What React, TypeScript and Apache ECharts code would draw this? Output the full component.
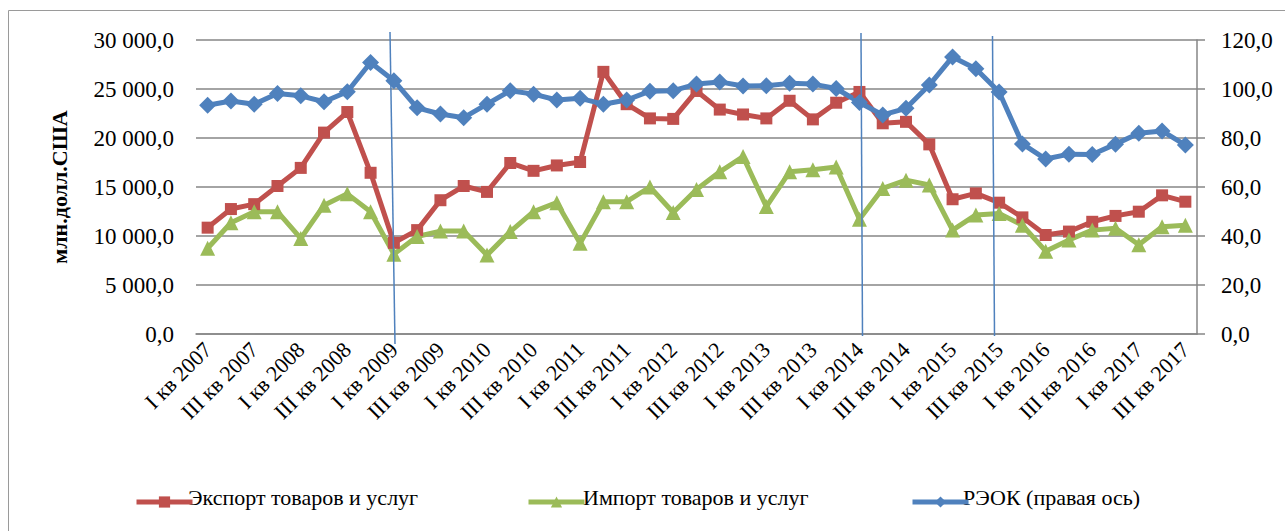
import React, { useEffect, useRef } from "react";
import * as echarts from "echarts";

const quarters = ["I", "II", "III", "IV"];
const years = [2007, 2008, 2009, 2010, 2011, 2012, 2013, 2014, 2015, 2016, 2017];
const categories: string[] = [];
years.forEach((y) => quarters.forEach((q) => categories.push(`${q} кв ${y}`)));
categories.length = 43; // I кв 2007 … III кв 2017

const exportValues = [
  10850, 12750, 13250, 15100, 16950, 20550, 22650, 16450, 9300, 10600,
  13650, 15100, 14500, 17450, 16650, 17200, 17550, 26750, 23450, 22000,
  21950, 24800, 22900, 22400, 22000, 23800, 21900, 23600, 24700, 21500,
  21650, 19350, 13750, 14350, 13400, 11900, 10100, 10450, 11450, 12050,
  12480, 14150, 13500,
];
const importValues = [
  8750, 11350, 12480, 12480, 9750, 13150, 14300, 12480, 8150, 9950,
  10500, 10500, 8050, 10450, 12480, 13400, 9250, 13500, 13500, 15000,
  12400, 14750, 16550, 18100, 13000, 16550, 16750, 17050, 11700, 14850,
  15700, 15200, 10600, 12150, 12300, 11100, 8450, 9600, 10600, 10800,
  9100, 10950, 11100,
];
const reokValues = [
  93.4, 95.1, 93.8, 98.2, 97.2, 94.8, 98.9, 110.8, 103.4, 92.3,
  89.8, 88.3, 93.8, 99.3, 97.9, 95.5, 96.2, 93.8, 95.5, 99.1,
  99.3, 102.0, 102.9, 101.2, 101.3, 102.3, 102.0, 100.2, 94.5, 89.4,
  92.1, 101.6, 113.1, 108.3, 98.8, 77.6, 71.4, 73.4, 73.3, 77.5,
  81.9, 82.9, 77.1,
];

const seriesNames = [
  "Экспорт товаров и услуг",
  "Импорт товаров и услуг",
  "РЭОК (правая ось)",
];
const yAxisName = "млн.долл.США";

const RED = "#C0504D";
const GREEN = "#9BBB59";
const BLUE = "#4F81BD";
const FONT = "Liberation Serif";

function fmtLeft(v: number) {
  const s = Math.round(v)
    .toString()
    .replace(/\B(?=(\d{3})+(?!\d))/g, " ");
  return s + ",0";
}
function fmtRight(v: number) {
  return Math.round(v).toString() + ",0";
}

// legend layout (icon left edge, text left edge)
const legendIconLeft = [129, 521, 905];
const legendTextLeft = [188, 583, 963];

export default function App() {
  const ref = useRef<HTMLDivElement>(null);
  useEffect(() => {
    if (!ref.current) return;
    const chart = echarts.init(ref.current, null, { renderer: "svg" });
    const legends = seriesNames.map((n, i) => ({
      data: [n],
      left: legendIconLeft[i],
      top: 490,
      itemWidth: 56,
      itemHeight: 14,
      itemGap: 0,
      lineStyle: { width: 5 },
      formatter: () => "",
    }));
    const legendTexts = seriesNames.map((n, i) => ({
      type: "text",
      x: legendTextLeft[i],
      y: 497,
      silent: true,
      style: {
        text: n,
        fontFamily: FONT,
        fontSize: 22,
        fill: "#000",
        verticalAlign: "middle",
        align: "left",
      },
    }));
    chart.setOption({
      animation: false,
      backgroundColor: "#fff",
      textStyle: { fontFamily: FONT, color: "#000" },
      grid: { left: 196, right: 88, top: 40, bottom: 197 },
      legend: legends,
      xAxis: {
        type: "category",
        data: categories,
        boundaryGap: true,
        axisLine: { show: true, lineStyle: { color: "#868686", width: 1.5 } },
        axisTick: { show: false },
        axisLabel: {
          interval: 1,
          rotate: 45,
          margin: 12,
          fontFamily: FONT,
          fontSize: 22,
          color: "#000",
        },
        splitLine: { show: false },
      },
      yAxis: [
        {
          type: "value",
          min: 0,
          max: 30000,
          interval: 5000,
          name: yAxisName,
          nameLocation: "middle",
          nameRotate: 90,
          nameGap: 126,
          nameTextStyle: {
            fontFamily: FONT,
            fontSize: 22,
            fontWeight: "bold",
            color: "#000",
          },
          axisLine: { show: false },
          axisTick: { show: false },
          axisLabel: {
            formatter: fmtLeft,
            margin: 22,
            fontFamily: FONT,
            fontSize: 23,
            color: "#000",
          },
          splitLine: { show: true, lineStyle: { color: "#868686", width: 1.5 } },
        },
        {
          type: "value",
          min: 0,
          max: 120,
          interval: 20,
          position: "right",
          axisLine: { show: true, lineStyle: { color: "#868686", width: 1.5 } },
          axisTick: {
            show: true,
            inside: false,
            length: 8,
            lineStyle: { color: "#868686", width: 1.5 },
          },
          axisLabel: {
            formatter: fmtRight,
            margin: 24,
            fontFamily: FONT,
            fontSize: 23,
            color: "#000",
          },
          splitLine: { show: false },
        },
      ],
      series: [
        {
          name: seriesNames[0],
          type: "line",
          data: exportValues,
          yAxisIndex: 0,
          symbol: "rect",
          symbolSize: 12,
          showAllSymbol: true,
          itemStyle: { color: RED },
          lineStyle: { color: RED, width: 5 },
        },
        {
          name: seriesNames[1],
          type: "line",
          data: importValues,
          yAxisIndex: 0,
          symbol: "triangle",
          symbolSize: 15,
          showAllSymbol: true,
          itemStyle: { color: GREEN },
          lineStyle: { color: GREEN, width: 5 },
        },
        {
          name: seriesNames[2],
          type: "line",
          data: reokValues,
          yAxisIndex: 1,
          symbol: "diamond",
          symbolSize: 17,
          showAllSymbol: true,
          itemStyle: { color: BLUE },
          lineStyle: { color: BLUE, width: 5 },
        },
      ],
      graphic: [
        {
          type: "rect",
          shape: { x: 8.5, y: 10.5, width: 1300, height: 540 },
          style: { fill: "none", stroke: "#9a9a9a", lineWidth: 1 },
          silent: true,
          z: 0,
        },
        {
          type: "line",
          shape: { x1: 390, y1: 32, x2: 395, y2: 344 },
          style: { stroke: BLUE, lineWidth: 1.5 },
          z: 100,
        },
        {
          type: "line",
          shape: { x1: 861, y1: 33, x2: 862.5, y2: 336 },
          style: { stroke: BLUE, lineWidth: 1.5 },
          z: 100,
        },
        {
          type: "line",
          shape: { x1: 992.5, y1: 36, x2: 994.5, y2: 336 },
          style: { stroke: BLUE, lineWidth: 1.5 },
          z: 100,
        },
        ...legendTexts,
      ],
    });
    return () => chart.dispose();
  }, []);
  return (
    <div
      ref={ref}
      style={{ position: "absolute", left: 0, top: 0, width: 1285, height: 531 }}
    />
  );
}
